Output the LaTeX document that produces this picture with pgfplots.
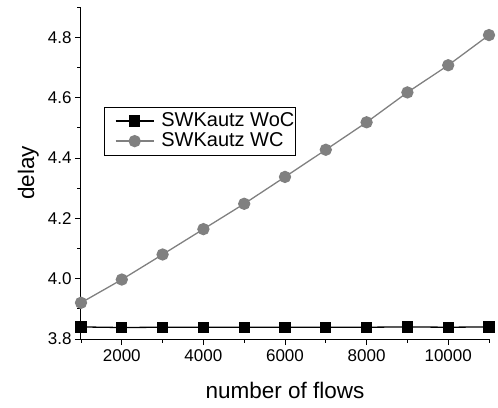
\documentclass[border=0pt]{standalone}
\usepackage{fontspec}
\setmainfont{Liberation Sans}
\usepackage{pgfplots}
\pgfplotsset{compat=1.18}
\definecolor{wcgray}{RGB}{128,128,128}

\pgfplotstableread{
x     woc    wc
1000  3.840  3.920
2000  3.838  3.997
3000  3.839  4.080
4000  3.839  4.164
5000  3.839  4.248
6000  3.839  4.337
7000  3.839  4.427
8000  3.839  4.518
9000  3.840  4.617
10000 3.839  4.707
11000 3.840  4.807
}\flows

\begin{document}
\begin{tikzpicture}
\begin{axis}[
  scale only axis,
  width=408pt, height=332pt,
  xmin=1000, xmax=11000,
  ymin=3.8, ymax=4.9,
  axis lines=left,
  axis line style={-, line width=1pt},
  xtick={2000,4000,6000,8000,10000},
  minor xtick={1000,3000,5000,7000,9000,11000},
  ytick={3.8,4.0,4.2,4.4,4.6,4.8},
  minor ytick={3.9,4.1,4.3,4.5,4.7,4.9},
  tick align=outside,
  major tick length=6pt,
  minor tick length=3.5pt,
  tick style={black, line width=0.8pt},
  scaled x ticks=false,
  /pgf/number format/assume math mode=true,
  xticklabel={\pgfmathprintnumber[1000 sep={}]{\tick}},
  yticklabel={\pgfmathprintnumber[fixed, fixed zerofill, precision=1]{\tick}},
  tick label style={font=\fontsize{17}{19}\selectfont},
  xticklabel style={yshift=-1pt},
  xlabel={number of flows},
  ylabel={delay},
  label style={font=\fontsize{22.5}{26}\selectfont},
  xlabel style={at={(axis description cs:0.5,-0.155)}, anchor=center},
  ylabel style={at={(axis description cs:-0.129,0.5)}, anchor=center},
  clip=false,
  legend style={at={(axis description cs:0.056,0.699)}, anchor=north west,
    draw=black, font=\fontsize{20}{20}\selectfont,
    inner xsep=1pt, inner ysep=5pt, row sep=2pt,
    nodes={inner xsep=0pt, inner ysep=0pt, text height=14pt, text depth=4pt},
    /tikz/every odd column/.append style={column sep=7pt}},
  legend cell align=left,
  legend image code/.code={\path (0pt,0pt); \draw[mark repeat=2,mark phase=2,#1,line width=1.3pt] plot coordinates {(10pt,0pt)(29pt,0pt)(48pt,0pt)};},
]
\addplot[black, line width=1.3pt, mark=square*, mark size=5pt, mark options={solid}] table[x=x, y=woc] {\flows};
\addlegendentry{SWKautz WoC}
\addplot[wcgray, line width=1.3pt, mark=*, mark size=5.5pt, mark options={solid, fill=wcgray}] table[x=x, y=wc] {\flows};
\addlegendentry{SWKautz WC}
\end{axis}
\path[use as bounding box] ([xshift=-81pt,yshift=-68pt]current axis.south west) rectangle ([xshift=9pt,yshift=7pt]current axis.north east);
\end{tikzpicture}
\end{document}
